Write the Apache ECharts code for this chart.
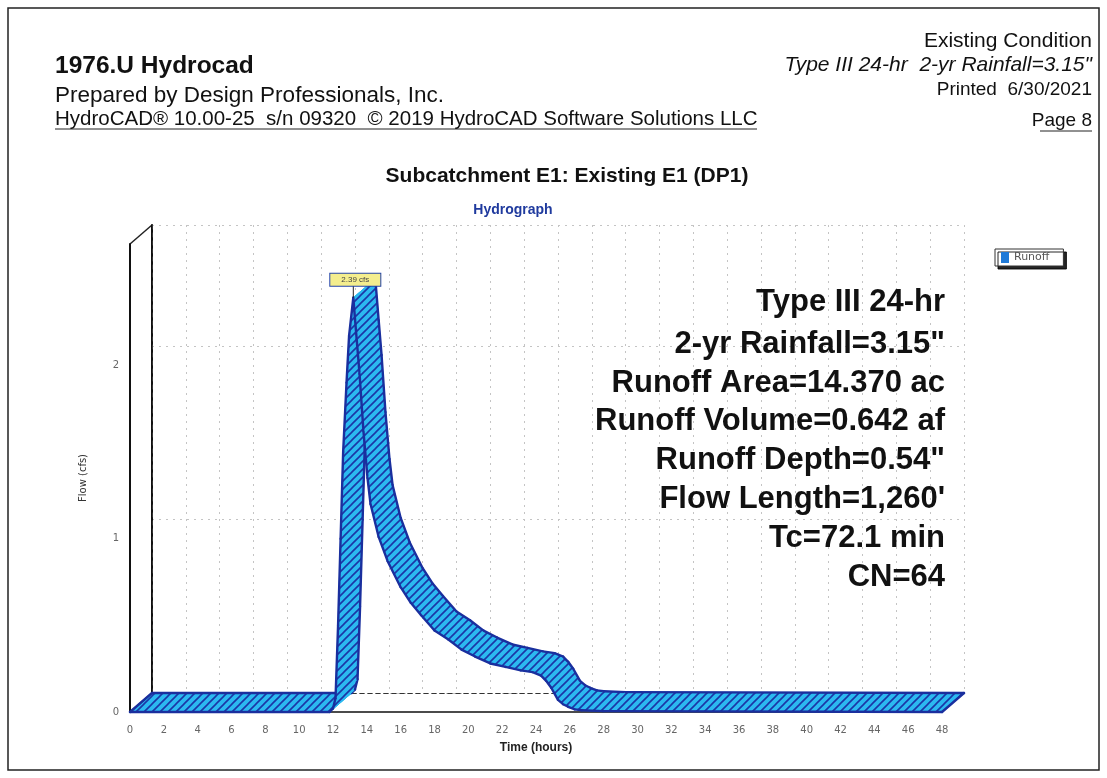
<!DOCTYPE html>
<html>
<head>
<meta charset="utf-8">
<script src="https://cdn.jsdelivr.net/npm/echarts@6/dist/echarts.min.js"></script>
<style>
  html, body { margin: 0; padding: 0; background: #fff; }
  #main { width: 1107px; height: 778px; }
</style>
</head>
<body>
<div id="main"></div>
<script>
// Hydrograph: time (hours) and runoff (cfs)
const hours = [0, 11.8, 12.0, 12.15, 12.3, 12.45, 12.6, 12.8, 12.95, 13.2, 13.4, 13.57, 13.8, 14.04, 14.22,
  14.7, 15.23, 16.0, 16.6, 17.2, 18.0, 18.8, 19.6, 20.4, 21.3, 22.2, 23.1, 23.8, 24.3, 24.6, 24.9,
  25.3, 25.6, 25.9, 26.3, 26.7, 28, 48];
const flow = [0, 0, 0.02, 0.08, 0.5, 1.0, 1.5, 1.9, 2.17, 2.39, 2.15, 1.95, 1.62, 1.35, 1.2,
  1.01, 0.87, 0.72, 0.63, 0.56, 0.47, 0.42, 0.36, 0.32, 0.28, 0.26, 0.24, 0.23, 0.21, 0.18, 0.14,
  0.07, 0.045, 0.03, 0.015, 0.01, 0.005, 0];
const seriesName = 'Runoff';
const xMax = 48;
const yMax = 2.7;

// Header / summary texts
const headerLeft = ['1976.U Hydrocad', 'Prepared by Design Professionals, Inc.',
  'HydroCAD\u00ae 10.00-25  s/n 09320  \u00a9 2019 HydroCAD Software Solutions LLC'];
const headerRight = ['Existing Condition', 'Type III 24-hr  2-yr Rainfall=3.15"', 'Printed  6/30/2021', 'Page 8'];
const summaryLines = ['Type III 24-hr', '2-yr Rainfall=3.15"', 'Runoff Area=14.370 ac', 'Runoff Volume=0.642 af',
  'Runoff Depth=0.54"', 'Flow Length=1,260\'', 'Tc=72.1 min', 'CN=64'];

const FONT = '"Liberation Sans", Arial, sans-serif';
const TICK_FONT = '"DejaVu Sans", sans-serif';
// layout of the pseudo-3D box
const G = { left: 130, top: 244, width: 812, height: 468 };
const DX = 22, DY = 19;
const EDGE = '#1a2f9e';

let myChart = echarts.init(document.getElementById('main'));

// diagonal hatch used to fill the ribbon
function makeHatch() {
  const n = 8;
  const c = document.createElement('canvas');
  c.width = n; c.height = n;
  const ctx = c.getContext('2d');
  ctx.fillStyle = '#2cb9f0';
  ctx.fillRect(0, 0, n, n);
  ctx.strokeStyle = '#1b36a6';
  ctx.lineWidth = 1.6;
  ctx.beginPath();
  ctx.moveTo(-1, n + 1); ctx.lineTo(n + 1, -1);
  ctx.moveTo(-1, 1); ctx.lineTo(1, -1);
  ctx.moveTo(n - 1, n + 1); ctx.lineTo(n + 1, n - 1);
  ctx.stroke();
  return c;
}
const hatch = { image: makeHatch(), repeat: 'repeat' };
const peakIdx = flow.indexOf(Math.max(...flow));

function edgeLine(a, b) {
  return {
    type: 'line',
    shape: { x1: a[0], y1: a[1], x2: b[0], y2: b[1] },
    style: { stroke: EDGE, lineWidth: 2.4, lineCap: 'round' }
  };
}

// each data item draws the ribbon segment to the next point (painter order = data order)
function renderRibbon(params, api) {
  const i = params.dataIndex;
  if (i >= hours.length - 1) return null;
  const f0 = api.coord([hours[i], flow[i]]);
  const f1 = api.coord([hours[i + 1], flow[i + 1]]);
  const b0 = [f0[0] + DX, f0[1] - DY];
  const b1 = [f1[0] + DX, f1[1] - DY];
  const children = [
    { type: 'polygon', shape: { points: [f0, f1, b1, b0] }, style: { fill: hatch, stroke: hatch, lineWidth: 1 } },
    edgeLine(f0, f1),
    edgeLine(b0, b1)
  ];
  if (i === 0) children.push(edgeLine(f0, b0));
  if (i === hours.length - 2) children.push(edgeLine(f1, b1));
  return { type: 'group', children: children };
}

// peak label
function renderPeak(params, api) {
  const p = api.coord([api.value(0), api.value(1)]);
  return {
    type: 'group',
    children: [
      { type: 'line', z2: 100, shape: { x1: p[0], y1: p[1], x2: p[0], y2: p[1] - 12 }, style: { stroke: '#222', lineWidth: 1 } },
      {
        type: 'text', z2: 101, x: p[0] + 2, y: p[1] - 18,
        style: {
          text: api.value(1).toFixed(2) + ' cfs', align: 'center', verticalAlign: 'middle',
          font: '8px ' + FONT, fill: '#444', backgroundColor: '#f4ee8e',
          borderColor: '#2444a8', borderWidth: 1, padding: [2, 11]
        }
      }
    ]
  };
}

let graphics = [
  { type: 'rect', shape: { x: 8, y: 8, width: 1091, height: 762 }, style: { fill: null, stroke: '#222', lineWidth: 1.5 } },
  // underlines of the footer line and the page number
  { type: 'line', shape: { x1: 55, y1: 129, x2: 757, y2: 129 }, style: { stroke: '#222', lineWidth: 1 } },
  { type: 'line', shape: { x1: 1040, y1: 131, x2: 1092, y2: 131 }, style: { stroke: '#222', lineWidth: 1 } },
  // connector of front and back walls
  { type: 'line', shape: { x1: G.left, y1: G.top, x2: G.left + DX, y2: G.top - DY }, style: { stroke: '#222', lineWidth: 1.5 } },
  { type: 'line', shape: { x1: G.left, y1: G.top + G.height, x2: G.left + DX, y2: G.top + G.height - DY }, style: { stroke: '#222', lineWidth: 1.5 } },
  { type: 'text', x: 55, y: 66, style: { text: headerLeft[0], font: 'bold 24.5px ' + FONT, fill: '#111', verticalAlign: 'middle' } },
  { type: 'text', x: 55, y: 96, style: { text: headerLeft[1], font: '22.5px ' + FONT, fill: '#111', verticalAlign: 'middle' } },
  { type: 'text', x: 55, y: 119, style: { text: headerLeft[2], font: '20.5px ' + FONT, fill: '#111', verticalAlign: 'middle' } },
  { type: 'text', x: 1092, y: 41, style: { text: headerRight[0], font: '21px ' + FONT, fill: '#111', align: 'right', verticalAlign: 'middle' } },
  { type: 'text', x: 1092, y: 65, style: { text: headerRight[1], font: 'italic 21px ' + FONT, fill: '#111', align: 'right', verticalAlign: 'middle' } },
  { type: 'text', x: 1092, y: 90, style: { text: headerRight[2], font: '19px ' + FONT, fill: '#111', align: 'right', verticalAlign: 'middle' } },
  { type: 'text', x: 1092, y: 121, style: { text: headerRight[3], font: '19px ' + FONT, fill: '#111', align: 'right', verticalAlign: 'middle' } },
  { type: 'text', x: 567, y: 176, style: { text: 'Subcatchment E1: Existing E1 (DP1)', font: 'bold 21px ' + FONT, fill: '#111', align: 'center', verticalAlign: 'middle' } },
  { type: 'text', x: 513, y: 210, style: { text: 'Hydrograph', font: 'bold 14px ' + FONT, fill: '#1f3a9e', align: 'center', verticalAlign: 'middle' } }
];
const lineYs = [302, 344, 383, 421, 460, 499, 538, 577];
summaryLines.forEach((t, k) => {
  graphics.push({ type: 'text', x: 945, y: lineYs[k], z: 10,
    style: { text: t, font: 'bold 31px ' + FONT, fill: '#111', align: 'right', verticalAlign: 'middle' } });
});

const gridSplit = { show: true, lineStyle: { color: '#c4c4c4', type: [2, 5], width: 1 } };
const noLabel = { show: false };

let option = {
  animation: false,
  backgroundColor: '#fff',
  legend: {
    data: [seriesName],
    left: 995, top: 249,
    icon: 'rect', itemWidth: 8, itemHeight: 11, itemGap: 4,
    textStyle: { color: '#555', fontSize: 11, fontFamily: TICK_FONT },
    backgroundColor: '#fff', borderColor: '#333', borderWidth: 1, padding: [3, 14, 3, 6],
    shadowColor: 'rgba(0,0,0,0.85)', shadowOffsetX: 3, shadowOffsetY: 3, shadowBlur: 0
  },
  grid: [
    { left: G.left, top: G.top, width: G.width, height: G.height },
    { left: G.left + DX, top: G.top - DY, width: G.width, height: G.height }
  ],
  xAxis: [
    {
      type: 'value', gridIndex: 0, min: 0, max: xMax, interval: 2,
      name: 'Time (hours)', nameLocation: 'middle', nameGap: 30,
      nameTextStyle: { fontFamily: FONT, fontWeight: 'bold', fontSize: 12, color: '#222' },
      axisLine: { lineStyle: { color: '#111', width: 1.5 } },
      axisTick: { show: false }, splitLine: { show: false },
      axisLabel: { color: '#666', fontSize: 10, fontFamily: TICK_FONT, margin: 13 }
    },
    {
      type: 'value', gridIndex: 1, min: 0, max: xMax, interval: 2, position: 'bottom',
      axisLine: { lineStyle: { color: '#333', type: [4, 4], width: 1 } },
      axisTick: { show: false }, axisLabel: noLabel, splitLine: gridSplit
    },
    {
      type: 'value', gridIndex: 1, min: 0, max: xMax, position: 'top',
      axisLine: { lineStyle: { color: '#333', type: [4, 4], width: 1 } },
      axisTick: { show: false }, axisLabel: noLabel, splitLine: { show: false }
    }
  ],
  yAxis: [
    {
      type: 'value', gridIndex: 0, min: 0, max: yMax, interval: 1,
      name: 'Flow (cfs)', nameLocation: 'middle', nameGap: 42, nameRotate: 90,
      nameTextStyle: { fontFamily: TICK_FONT, fontSize: 10, color: '#333' },
      axisLine: { show: true, lineStyle: { color: '#111', width: 2 } },
      axisTick: { show: false }, splitLine: { show: false },
      axisLabel: { color: '#666', fontSize: 10, fontFamily: TICK_FONT, margin: 11,
        formatter: (v) => Number.isInteger(v) ? String(v) : '' }
    },
    {
      type: 'value', gridIndex: 1, min: 0, max: yMax, interval: 1, position: 'left',
      axisLine: { show: true, lineStyle: { color: '#111', width: 2 } },
      axisTick: { show: false }, axisLabel: noLabel, splitLine: gridSplit
    },
    {
      type: 'value', gridIndex: 1, min: 0, max: yMax, position: 'right',
      axisLine: { show: true, lineStyle: { color: '#333', type: [4, 4], width: 1 } },
      axisTick: { show: false }, axisLabel: noLabel, splitLine: { show: false }
    }
  ],
  series: [
    {
      name: seriesName, type: 'custom', xAxisIndex: 0, yAxisIndex: 0,
      itemStyle: { color: '#1f7ad8' }, clip: false,
      renderItem: renderRibbon,
      data: hours.map((h, i) => [h, flow[i]])
    },
    {
      name: 'peak', type: 'custom', xAxisIndex: 0, yAxisIndex: 0, z: 5, clip: false,
      renderItem: renderPeak, silent: true,
      data: [[hours[peakIdx], flow[peakIdx]]]
    }
  ],
  graphic: graphics
};

option && myChart.setOption(option);
</script>
</body>
</html>
